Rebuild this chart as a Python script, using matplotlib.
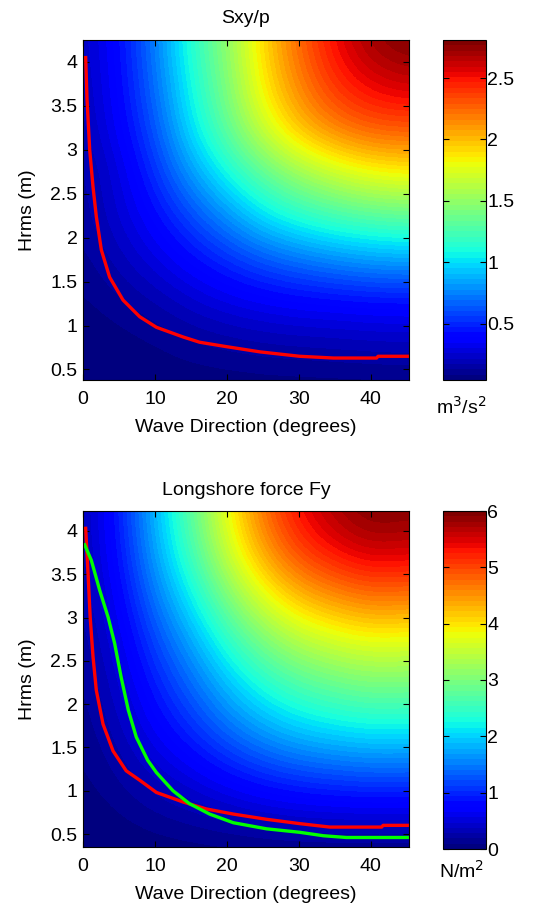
import matplotlib
matplotlib.use("Agg")
import matplotlib.pyplot as plt
import numpy as np

plt.rcParams["font.family"] = ["Liberation Sans", "DejaVu Sans"]
plt.rcParams["font.size"] = 14

theta_grid = [0, 5, 10, 15, 20, 25, 30, 35, 40, 45]
hrms_grid = [0.25, 0.75, 1.25, 1.75, 2.25, 2.75, 3.25, 3.75, 4.25]

# Sxy/rho (m^3/s^2), one row per hrms_grid value
sxy_rows = [
    [0.04, 0.04, 0.04, 0.04, 0.04, 0.04, 0.04, 0.04, 0.04, 0.04],
    [0.04, 0.05, 0.07, 0.10, 0.12, 0.14, 0.15, 0.16, 0.17, 0.18],
    [0.07, 0.11, 0.16, 0.23, 0.29, 0.33, 0.36, 0.37, 0.39, 0.39],
    [0.10, 0.19, 0.29, 0.40, 0.51, 0.62, 0.70, 0.77, 0.82, 0.84],
    [0.14, 0.26, 0.40, 0.59, 0.79, 1.01, 1.15, 1.24, 1.30, 1.33],
    [0.14, 0.28, 0.52, 0.82, 1.09, 1.34, 1.54, 1.70, 1.81, 1.85],
    [0.18, 0.36, 0.62, 1.01, 1.34, 1.70, 2.01, 2.19, 2.30, 2.31],
    [0.19, 0.39, 0.69, 1.09, 1.43, 1.87, 2.17, 2.42, 2.56, 2.62],
    [0.21, 0.41, 0.73, 1.15, 1.48, 1.92, 2.26, 2.53, 2.73, 2.81],
]

# longshore force Fy (N/m^2)
fy_rows = [
    [0.00, 0.00, 0.00, 0.00, 0.00, 0.00, 0.00, 0.00, 0.00, 0.00],
    [0.03, 0.08, 0.17, 0.25, 0.34, 0.43, 0.49, 0.52, 0.54, 0.53],
    [0.07, 0.21, 0.43, 0.63, 0.88, 1.09, 1.24, 1.32, 1.38, 1.37],
    [0.11, 0.34, 0.70, 1.04, 1.43, 1.78, 2.03, 2.16, 2.25, 2.23],
    [0.15, 0.45, 0.93, 1.38, 1.91, 2.37, 2.70, 2.88, 3.00, 2.97],
    [0.19, 0.57, 1.18, 1.75, 2.42, 3.01, 3.43, 3.66, 3.81, 3.77],
    [0.24, 0.71, 1.47, 2.18, 3.01, 3.74, 4.27, 4.55, 4.74, 4.69],
    [0.28, 0.84, 1.73, 2.57, 3.54, 4.41, 5.02, 5.36, 5.58, 5.52],
    [0.30, 0.90, 1.86, 2.76, 3.81, 4.74, 5.40, 5.76, 6.00, 5.94],
]

# threshold curves
red1_theta = [0.37, 0.56, 0.93, 1.39, 1.85, 2.55, 3.7, 5.56, 7.88, 10.2, 13.9,
              16.2, 19.9, 24.6, 30.1, 34.8, 40.8, 41.0, 45.3]
red1_h = [4.05, 3.57, 3.0, 2.58, 2.24, 1.86, 1.55, 1.29, 1.10, 0.98, 0.87,
          0.81, 0.76, 0.70, 0.65, 0.63, 0.63, 0.65, 0.65]

red2_theta = [0.37, 0.7, 1.0, 1.39, 1.85, 2.78, 4.17, 6.0, 7.9, 10.2, 13.9,
              17.1, 20.9, 25.5, 30.1, 34.3, 41.5, 41.7, 45.3]
red2_h = [4.03, 3.51, 3.0, 2.55, 2.16, 1.77, 1.46, 1.23, 1.12, 0.98, 0.87,
          0.79, 0.73, 0.67, 0.62, 0.58, 0.58, 0.60, 0.60]

green2_theta = [0.23, 1.16, 2.3, 3.5, 4.4, 5.3, 6.3, 7.4, 9.0, 10.2, 12.5,
                14.8, 17.6, 20.9, 25.5, 30.1, 33.4, 36.6, 45.3]
green2_h = [3.84, 3.66, 3.32, 3.0, 2.70, 2.31, 1.93, 1.62, 1.35, 1.21, 1.0,
            0.85, 0.73, 0.63, 0.56, 0.52, 0.48, 0.46, 0.46]

sxy_cticks = [0.5, 1, 1.5, 2, 2.5]
sxy_clabels = ["0.5", "1", "1.5", "2", "2.5"]
fy_cticks = [0, 1, 2, 3, 4, 5, 6]
fy_clabels = ["0", "1", "2", "3", "4", "5", "6"]

W, H = 544, 909
fig = plt.figure(figsize=(W / 100, H / 100), dpi=100)
cmap = plt.get_cmap("jet", 64)

dth = theta_grid[1] - theta_grid[0]
dh = hrms_grid[1] - hrms_grid[0]
extent = [theta_grid[0] - dth / 2, theta_grid[-1] + dth / 2,
          hrms_grid[0] - dh / 2, hrms_grid[-1] + dh / 2]


def box(l, t, r, b):
    # pixel box -> figure fraction
    return [l / W, 1 - b / H, (r - l) / W, (b - t) / H]


def panel(ax_px, cax_px, rows, vmin, vmax, ylim, title, tpad, cticks,
          clabels, unit, unit_top):
    ax = fig.add_axes(box(*ax_px))
    im = ax.imshow(np.array(rows), origin="lower", extent=extent, aspect="auto",
                   cmap=cmap, vmin=vmin, vmax=vmax, interpolation="bicubic",
                   interpolation_stage="data")
    ax.set_xlim(0, 45.3)
    ax.set_ylim(*ylim)
    ax.set_xticks([0, 10, 20, 30, 40])
    ax.set_yticks([0.5, 1, 1.5, 2, 2.5, 3, 3.5, 4])
    ax.set_yticklabels(["0.5", "1", "1.5", "2", "2.5", "3", "3.5", "4"])
    ax.tick_params(direction="in", top=True, right=True, length=4, width=0.8,
                   labelsize=14)
    ax.tick_params(axis="x", pad=8)
    ax.tick_params(axis="y", pad=4)
    ax.set_xlabel("Wave Direction (degrees)", fontsize=14, labelpad=8)
    ax.set_ylabel("Hrms (m)", fontsize=14, labelpad=10)
    ax.set_title(title, fontsize=14, pad=tpad)

    cax = fig.add_axes(box(*cax_px))
    cb = fig.colorbar(im, cax=cax)
    cb.set_ticks(cticks)
    cb.set_ticklabels(clabels)
    cb.ax.tick_params(direction="in", left=True, right=True, length=4,
                      width=0.8, labelsize=14, pad=1)
    cb.outline.set_linewidth(0.8)
    fig.text((cax_px[0] + cax_px[2]) / 2 / W - 0.006, 1 - unit_top / H, unit,
             ha="center", va="top", fontsize=14)
    return ax


ax1 = panel((83, 40, 409, 380), (443, 40, 486, 380), sxy_rows, 0.04, 2.81,
            (0.38, 4.25), "Sxy/p", 12, sxy_cticks, sxy_clabels,
            "m$^3$/s$^2$", 396)
ax1.plot(red1_theta, red1_h, color="#ff0000", lw=2.4)

ax2 = panel((83, 511, 409, 847), (443, 511, 486, 849), fy_rows, 0, 6,
            (0.35, 4.23), "Longshore force Fy", 11.5, fy_cticks, fy_clabels,
            "N/m$^2$", 860)
ax2.plot(red2_theta, red2_h, color="#ff0000", lw=2.4)
ax2.plot(green2_theta, green2_h, color="#00ff00", lw=2.4)

fig.savefig("out.png", dpi=100)
